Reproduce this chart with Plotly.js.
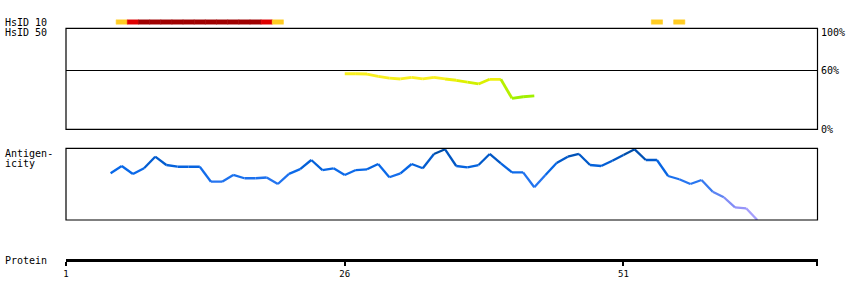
<!DOCTYPE html>
<html>
<head>
<meta charset="utf-8">
<script src="https://cdn.plot.ly/plotly-3.0.1.min.js"></script>
<style>html,body{margin:0;padding:0;background:#fff;}#chart{width:850px;height:300px;}</style>
</head>
<body>
<div id="chart"></div>
<script>
// ---- data ----
const proteinTicks = [1, 26, 51];
const proteinTickLabels = ["1", "26", "51"];
const proteinEnd = 68.4;

// HsID 10 track: residue positions and identity level (1 = low, 2 = mid, 3 = high)
const hsid10Pos   = [6, 7, 8, 9, 10, 11, 12, 13, 14, 15, 16, 17, 18, 19, 20, 54, 56];
const hsid10Level = [1, 2, 3, 3, 3,  3,  3,  3,  3,  3,  3,  3,  3,  2,  1,  1,  1];

// HsID 50 track: percent identity
const hsid50Pos = [26, 27, 28, 29, 30, 31, 32, 33, 34, 35, 36, 37, 38, 39, 40, 41, 42, 43];
const hsid50Pct = [57.0, 57.0, 56.7, 54.3, 52.6, 51.6, 53.3, 51.6, 53.3, 51.6, 50.3, 48.5, 46.5, 51.3, 51.3, 31.8, 33.4, 34.2];

// Antigenicity (relative score, 0 = bottom, 1 = top of the panel)
const antiPos = [5, 6, 7, 8, 9, 10, 11, 12, 13, 14, 15, 16, 17, 18, 19, 20, 21, 22, 23, 24, 25, 26, 27, 28, 29, 30, 31, 32, 33, 34,
                 35, 36, 37, 38, 39, 40, 41, 42, 43, 44, 45, 46, 47, 48, 49, 50, 51, 52, 53, 54, 55, 56, 57, 58, 59, 60, 61, 62, 63];
const antiVal = [0.651, 0.753, 0.642, 0.721, 0.883, 0.767, 0.743, 0.743, 0.743, 0.534, 0.534, 0.628, 0.582, 0.582, 0.593, 0.502,
                 0.644, 0.709, 0.837, 0.697, 0.721, 0.628, 0.697, 0.707, 0.781, 0.596, 0.651, 0.781, 0.721, 0.921,
                 0.986, 0.753, 0.735, 0.767, 0.921, 0.791, 0.665, 0.665, 0.456, 0.628, 0.795, 0.883, 0.921, 0.767, 0.753,
                 0.827, 0.907, 0.986, 0.837, 0.837, 0.614, 0.568, 0.502, 0.558, 0.395, 0.317, 0.177, 0.163, 0.0];

// ---- colour helpers ----
function hex(c){return [parseInt(c.slice(1,3),16),parseInt(c.slice(3,5),16),parseInt(c.slice(5,7),16)];}
function lerpColor(stops, v){
  if (v <= stops[0][0]) return stops[0][1];
  for (let i = 1; i < stops.length; i++){
    if (v <= stops[i][0]){
      const t = (v - stops[i-1][0]) / (stops[i][0] - stops[i-1][0]);
      const a = hex(stops[i-1][1]), b = hex(stops[i][1]);
      return 'rgb(' + a.map((x,k)=>Math.round(x + (b[k]-x)*t)).join(',') + ')';
    }
  }
  return stops[stops.length-1][1];
}
const antiStops = [[0,'#b4a8ff'],[0.2,'#9090f8'],[0.4,'#5080f0'],[0.55,'#2274f0'],[0.7,'#0868e8'],[0.85,'#0058c8'],[1,'#004898']];
const hsidStops = [[32,'#9cf000'],[46,'#c4f000'],[50,'#e4f000'],[52.5,'#f8f020']];
const hsid10Colors = {1:'#ffcc22', 2:'#e00000', 3:'#a00000'};

const traces = [];

// HsID 10 bars
const barColors = hsid10Level.map(l=>hsid10Colors[l]);
traces.push({
  type:'bar', x: hsid10Pos, y: hsid10Pos.map(()=>1), width: 1,
  marker:{color: barColors, line:{width:0.6, color: barColors}},
  xaxis:'x', yaxis:'y3', hoverinfo:'skip'
});

// HsID 50 line (segment colours by value)
for (let i = 0; i < hsid50Pos.length - 1; i++){
  const v = (hsid50Pct[i] + hsid50Pct[i+1]) / 2;
  traces.push({
    type:'scatter', mode:'lines', x:[hsid50Pos[i], hsid50Pos[i+1]], y:[hsid50Pct[i], hsid50Pct[i+1]],
    line:{color: lerpColor(hsidStops, v), width:2.8}, xaxis:'x', yaxis:'y2', hoverinfo:'skip'
  });
}

// Antigenicity line
for (let i = 0; i < antiPos.length - 1; i++){
  const v = (antiVal[i] + antiVal[i+1]) / 2;
  traces.push({
    type:'scatter', mode:'lines', x:[antiPos[i], antiPos[i+1]], y:[antiVal[i], antiVal[i+1]],
    line:{color: lerpColor(antiStops, v), width:2.3}, xaxis:'x', yaxis:'y', hoverinfo:'skip'
  });
}

const W = 850, H = 300;
const px = v => v / W, py = v => 1 - v / H;
const mono = 'DejaVu Sans Mono, monospace';

const box = (yref) => ({type:'rect', xref:'x domain', yref: yref + ' domain', x0:0, x1:1, y0:0, y1:1, line:{color:'#000', width:1.2}, fillcolor:'rgba(0,0,0,0)'});

const layout = {
  width: W, height: H,
  margin:{l:0, r:0, t:0, b:0, pad:0},
  paper_bgcolor:'#fff', plot_bgcolor:'rgba(0,0,0,0)',
  showlegend:false,
  font:{family: mono, size:10, color:'#000'},
  xaxis:{
    domain:[px(66), px(817.5)], range:[1, proteinEnd],
    anchor:'free', position: py(260),
    showline:true, linecolor:'#000', linewidth:3,
    showgrid:false, zeroline:false,
    ticks:'outside', ticklen:4, tickwidth:2, tickcolor:'#000',
    tickvals: proteinTicks.concat([proteinEnd - 0.05]), ticktext: proteinTickLabels.concat(['']),
    tickfont:{family: mono, size:9, color:'#000'}
  },
  yaxis:{domain:[py(220), py(148.3)], range:[0,1], visible:false, fixedrange:true},
  yaxis2:{domain:[py(129.3), py(28.3)], range:[0,103.6], showgrid:true, gridcolor:'#000', gridwidth:1.2,
          tickvals:[60], showticklabels:false, ticks:'', zeroline:false, showline:false},
  yaxis3:{domain:[py(24.5), py(19.5)], range:[0,1], visible:false},
  shapes:[box('y'), box('y2')],
  annotations:[
    {text:'HsID 10', x:px(3), y:py(22.5), xref:'paper', yref:'paper', xanchor:'left', yanchor:'middle', showarrow:false},
    {text:'HsID 50', x:px(3), y:py(32.5), xref:'paper', yref:'paper', xanchor:'left', yanchor:'middle', showarrow:false},
    {text:'Antigen-', x:px(3), y:py(153), xref:'paper', yref:'paper', xanchor:'left', yanchor:'middle', showarrow:false},
    {text:'icity', x:px(3), y:py(163), xref:'paper', yref:'paper', xanchor:'left', yanchor:'middle', showarrow:false},
    {text:'Protein', x:px(3), y:py(260), xref:'paper', yref:'paper', xanchor:'left', yanchor:'middle', showarrow:false},
    {text:'100%', x:px(819), y:py(32.7), xref:'paper', yref:'paper', xanchor:'left', yanchor:'middle', showarrow:false},
    {text:'60%', x:px(819), y:py(70.7), xref:'paper', yref:'paper', xanchor:'left', yanchor:'middle', showarrow:false},
    {text:'0%', x:px(819), y:py(129.5), xref:'paper', yref:'paper', xanchor:'left', yanchor:'middle', showarrow:false}
  ]
};

Plotly.newPlot('chart', traces, layout, {staticPlot:true, displayModeBar:false});
</script>
</body>
</html>
